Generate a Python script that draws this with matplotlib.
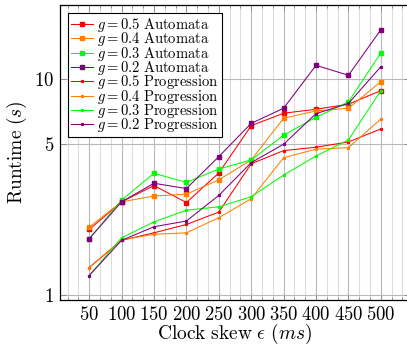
import matplotlib.pyplot as plt
import numpy as np
from matplotlib.ticker import FixedLocator, MultipleLocator, NullLocator

plt.rcParams['mathtext.fontset'] = 'cm'
plt.rcParams['font.family'] = 'serif'

skew = [50, 100, 150, 200, 250, 300, 350, 400, 450, 500]

# Automata runtimes (s)
auto_05 = [2.01, 2.70, 3.21, 2.68, 3.67, 6.08, 6.94, 7.24, 7.64, 8.83]
auto_04 = [2.06, 2.70, 2.87, 2.93, 3.41, 4.22, 6.58, 7.11, 7.32, 9.72]
auto_03 = [1.82, 2.75, 3.66, 3.32, 3.83, 4.22, 5.49, 6.65, 7.83, 13.2]
auto_02 = [1.82, 2.70, 3.29, 3.11, 4.37, 6.23, 7.32, 11.57, 10.4, 16.9]

# Progression runtimes (s)
prog_05 = [1.34, 1.79, 1.94, 2.12, 2.42, 4.05, 4.66, 4.83, 5.11, 5.87]
prog_04 = [1.34, 1.80, 1.91, 1.94, 2.28, 2.79, 4.32, 4.73, 4.81, 6.53]
prog_03 = [1.23, 1.84, 2.18, 2.47, 2.56, 2.85, 3.59, 4.40, 5.22, 8.83]
prog_02 = [1.23, 1.79, 2.07, 2.20, 2.89, 4.10, 4.99, 6.91, 7.70, 11.4]

colors = ['#ff0000', '#ff8000', '#00ff00', '#800080']
g_vals = ['0.5', '0.4', '0.3', '0.2']

fig = plt.figure(figsize=(4.07, 3.47), dpi=100)
ax = fig.add_axes([60 / 407, 47 / 347, 350 / 407, 295 / 347])

for g, c, ys in zip(g_vals, colors, [auto_05, auto_04, auto_03, auto_02]):
    ax.plot(skew, ys, color=c, lw=0.75, marker='s', ms=2.3, mec=c, mfc=c,
            label=r'$g = %s\ \mathrm{Automata}$' % g)
for g, c, ys in zip(g_vals, colors, [prog_05, prog_04, prog_03, prog_02]):
    ax.plot(skew, ys, color=c, lw=0.75, marker='s', ms=1.3, mec=c, mfc=c,
            label=r'$g = %s\ \mathrm{Progression}$' % g)

ax.set_yscale('log')
ax.set_xlim(5, 545)
ax.set_ylim(0.948, 22.0)

ax.xaxis.set_major_locator(FixedLocator(skew))
ax.set_xticklabels([r'$%d$' % s for s in skew])
ax.xaxis.set_minor_locator(MultipleLocator(50 / 3))
ax.yaxis.set_major_locator(FixedLocator([1, 5, 10]))
ax.yaxis.set_minor_locator(NullLocator())
ax.set_yticklabels([r'$1$', r'$5$', r'$10$'])

ax.tick_params(which='both', direction='in', top=True, right=True,
               labelsize=13.5, pad=4, width=0.6)
ax.tick_params(which='major', length=4, color='#888888')
ax.tick_params(which='minor', length=2.5, color='#888888')

ax.grid(True, which='major', axis='both', color='#b8b8b8', lw=0.8)
ax.grid(True, which='minor', axis='x', color='#dcdcdc', lw=0.8)
ax.set_axisbelow(True)
for s in ax.spines.values():
    s.set_linewidth(0.9)

ax.set_xlabel(r'$\mathrm{Clock\ skew}\ \epsilon\ (ms)$', fontsize=14, labelpad=-1)
ax.set_ylabel(r'$\mathrm{Runtime}\ (s)$', fontsize=14, labelpad=4)

leg = ax.legend(loc='upper left', fontsize=10.5, frameon=True, fancybox=False,
                edgecolor='black', framealpha=1, handlelength=1.5,
                handletextpad=0.3, borderpad=0.2, labelspacing=-0.25,
                borderaxespad=0.55)
leg.get_frame().set_linewidth(0.8)

fig.savefig('out.png', dpi=100)
